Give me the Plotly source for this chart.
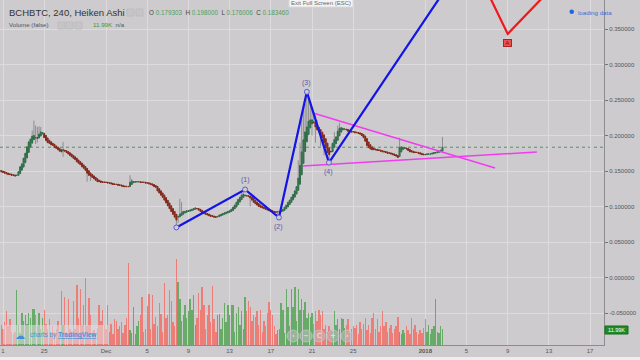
import plotly.graph_objects as go
import pandas as pd

# ---------------- data ----------------
start_time = "2017-11-20 16:00"   # first 4h Heiken Ashi candle
first_open = 0.151

closes = [
    0.150, 0.149,                                   # Nov 20
    0.148, 0.147, 0.146, 0.145, 0.145, 0.144,       # Nov 21
    0.144, 0.143, 0.144, 0.149, 0.156, 0.160,       # Nov 22
    0.168, 0.175, 0.184, 0.191, 0.195, 0.199,       # Nov 23
    0.200, 0.197, 0.196, 0.202, 0.205, 0.204,       # Nov 24
    0.197, 0.193, 0.190, 0.189, 0.187, 0.186,       # Nov 25
    0.183, 0.182, 0.180, 0.178, 0.177, 0.180,       # Nov 26
    0.178, 0.176, 0.174, 0.172, 0.170, 0.168,       # Nov 27
    0.166, 0.163, 0.161, 0.159, 0.156, 0.154,       # Nov 28
    0.151, 0.147, 0.144, 0.143, 0.141, 0.139,       # Nov 29
    0.137, 0.135, 0.135, 0.134, 0.134, 0.134,       # Nov 30
    0.134, 0.133, 0.133, 0.132, 0.131, 0.131,       # Dec 1
    0.131, 0.130, 0.130, 0.129, 0.128, 0.128,       # Dec 2
    0.128, 0.128, 0.134, 0.136, 0.135, 0.135,       # Dec 3
    0.135, 0.135, 0.134, 0.134, 0.134, 0.133,       # Dec 4
    0.133, 0.132, 0.131, 0.130, 0.128, 0.127,       # Dec 5
    0.122, 0.119, 0.116, 0.113, 0.109, 0.105,       # Dec 6
    0.101, 0.097, 0.093, 0.089, 0.085, 0.081,       # Dec 7
    0.086, 0.089, 0.091, 0.093, 0.093, 0.094,       # Dec 8
    0.094, 0.095, 0.096, 0.097, 0.098, 0.097,       # Dec 9
    0.095, 0.093, 0.091, 0.090, 0.089, 0.088,       # Dec 10
    0.087, 0.086, 0.086, 0.085, 0.085, 0.086,       # Dec 11
    0.088, 0.089, 0.090, 0.091, 0.092, 0.093,       # Dec 12
    0.094, 0.096, 0.099, 0.102, 0.106, 0.110,       # Dec 13
    0.113, 0.116, 0.117, 0.116, 0.115, 0.114,       # Dec 14
    0.112, 0.109, 0.106, 0.104, 0.102, 0.100,       # Dec 15
    0.099, 0.098, 0.097, 0.096, 0.095, 0.094,       # Dec 16
    0.093, 0.092, 0.092, 0.092, 0.093, 0.093,       # Dec 17
    0.094, 0.096, 0.099, 0.102, 0.106, 0.109,       # Dec 18
    0.113, 0.117, 0.122, 0.128, 0.140, 0.158,       # Dec 19
    0.177, 0.194, 0.205, 0.212, 0.220, 0.222,       # Dec 20
    0.222, 0.218, 0.212, 0.208, 0.205, 0.201,       # Dec 21
    0.197, 0.190, 0.183, 0.176, 0.173, 0.177,       # Dec 22
    0.189, 0.194, 0.198, 0.206, 0.210, 0.211,       # Dec 23
    0.210, 0.209, 0.208, 0.206, 0.205, 0.205,       # Dec 24
    0.205, 0.204, 0.204, 0.203, 0.202, 0.200,       # Dec 25
    0.197, 0.192, 0.186, 0.183, 0.181, 0.180,       # Dec 26
    0.180, 0.180, 0.179, 0.179, 0.178, 0.177,       # Dec 27
    0.177, 0.176, 0.175, 0.175, 0.174, 0.173,       # Dec 28
    0.172, 0.171, 0.169, 0.183, 0.184, 0.183,       # Dec 29
    0.183, 0.181, 0.179, 0.177, 0.177, 0.176,       # Dec 30
    0.176, 0.176, 0.175, 0.174, 0.173, 0.173,       # Dec 31
    0.173, 0.174, 0.174, 0.174, 0.175, 0.176,       # Jan 1
    0.176, 0.177, 0.178, 0.1794, 0.18346,           # Jan 2
]

volumes_k = [
    22, 15,
    12, 17, 25, 14, 19, 10,
    8, 10, 41, 15, 9, 24,
    18, 22, 16, 24, 20, 27,
    27, 22, 14, 24, 12, 20,
    26, 16, 12, 19, 8, 14,
    10, 12, 18, 9, 40, 15,
    36, 10, 34, 12, 8, 33,
    12, 45, 20, 42, 15, 30,
    50, 14, 35, 22, 10, 11,
    9, 13, 30, 18, 26, 15,
    12, 30, 10, 16, 8, 19,
    18, 12, 14, 17, 9, 15,
    20, 61, 11, 9, 28, 8,
    14, 18, 22, 36, 10, 12,
    29, 38, 12, 37, 16, 21,
    14, 31, 23, 10, 46, 20,
    22, 41, 33, 17, 14, 64,
    47, 34, 18, 22, 30, 20,
    25, 34, 26, 37, 15, 20,
    39, 26, 43, 30, 12, 22,
    30, 17, 44, 19, 10, 22,
    23, 12, 20, 31, 17, 30,
    22, 30, 30, 10, 24, 28,
    15, 25, 12, 36, 25, 33,
    28, 18, 22, 21, 25, 15,
    26, 10, 18, 14, 24, 32,
    26, 22, 14, 8, 11, 12,
    31, 26, 9, 42, 28, 14,
    42, 28, 43, 18, 42, 26,
    34, 26, 32, 20, 24, 21,
    24, 16, 25, 18, 26, 22,
    25, 12, 15, 10, 14, 11,
    10, 25, 15, 19, 12, 20,
    19, 13, 15, 19, 9, 12,
    14, 13, 15, 8, 17, 12,
    16, 20, 11, 15, 9, 20,
    24, 12, 19, 10, 14, 25,
    14, 17, 10, 13, 15, 9,
    12, 14, 21, 10, 8, 11,
    9, 14, 11, 8, 20, 12,
    15, 10, 8, 11, 9, 13,
    19, 10, 15, 8, 12, 14,
    34, 10, 9, 14, 11.99,
]

wick_high_times = ["2017-11-23 20:00", "2017-11-24 00:00", "2017-11-24 04:00", "2017-11-24 08:00",
                   "2017-11-24 12:00", "2017-11-24 16:00", "2017-11-26 20:00", "2017-12-03 08:00",
                   "2017-12-03 12:00", "2017-12-08 04:00", "2017-12-08 08:00", "2017-12-14 04:00",
                   "2017-12-14 08:00", "2017-12-19 16:00", "2017-12-19 20:00", "2017-12-20 00:00",
                   "2017-12-20 04:00", "2017-12-20 08:00", "2017-12-20 12:00", "2017-12-20 16:00",
                   "2017-12-20 20:00", "2017-12-21 00:00", "2017-12-21 04:00", "2017-12-21 08:00",
                   "2017-12-21 12:00", "2017-12-23 04:00", "2017-12-23 12:00", "2017-12-23 16:00",
                   "2017-12-29 12:00", "2018-01-02 16:00"]
wick_high_vals = [0.207, 0.221, 0.214, 0.212, 0.213, 0.212, 0.191, 0.144,
                  0.139, 0.111, 0.106, 0.120, 0.124, 0.165, 0.190, 0.225,
                  0.240, 0.245, 0.2615, 0.252, 0.245, 0.240, 0.232, 0.228,
                  0.222, 0.205, 0.214, 0.218, 0.197, 0.198]
wick_low_times = ["2017-11-24 04:00", "2017-11-24 08:00", "2017-11-26 20:00", "2017-11-29 04:00",
                  "2017-11-29 12:00", "2017-12-07 20:00", "2017-12-08 00:00", "2017-12-15 00:00",
                  "2017-12-17 16:00", "2017-12-17 20:00", "2017-12-19 20:00", "2017-12-20 00:00",
                  "2017-12-20 16:00", "2017-12-21 00:00", "2017-12-21 08:00", "2017-12-21 20:00",
                  "2017-12-22 04:00", "2017-12-22 16:00", "2018-01-02 16:00"]
wick_low_vals = [0.188, 0.190, 0.170, 0.135, 0.136, 0.072, 0.077, 0.100,
                 0.088, 0.0845, 0.140, 0.160, 0.200, 0.200, 0.190, 0.185,
                 0.172, 0.162, 0.176006]

# Elliott wave (blue) and correction (red) drawing
wave_times = ["2017-12-07 20:00", "2017-12-14 12:00", "2017-12-17 19:00", "2017-12-20 12:00",
              "2017-12-22 15:30", "2018-01-05 06:00"]
wave_prices = [0.0705, 0.124, 0.0845, 0.2615, 0.1618, 0.4556]
wave_labels = ["", "(1)", "(2)", "(3)", "(4)"]
wave_label_side = [0, 1, -1, 1, -1]
corr_times = ["2018-01-05 06:00", "2018-01-09 00:00", "2018-01-14 02:00"]
corr_prices = [0.4556, 0.343, 0.4199]
# triangle trend lines (magenta)
upper_times = ["2017-12-21 02:30", "2018-01-07 18:30"]
upper_prices = [0.2317, 0.1542]
lower_times = ["2017-12-20 03:00", "2018-01-11 20:00"]
lower_prices = [0.1570, 0.1768]

last_price = 0.18346
ohlc_text = ["0.179303", "0.198000", "0.176006", "0.183460"]
last_volume_text = "11.99K"

price_ticks = [0.35, 0.30, 0.25, 0.20, 0.15, 0.10, 0.05, 0.0, -0.05]
date_ticks = ["2017-11-21", "2017-11-25", "2017-12-01", "2017-12-05", "2017-12-09", "2017-12-13",
              "2017-12-17", "2017-12-21", "2017-12-25", "2018-01-01", "2018-01-05", "2018-01-09",
              "2018-01-13", "2018-01-17"]
date_tick_labels = ["1", "25", "Dec", "5", "9", "13", "17", "21", "25", "<b>2018</b>",
                    "5", "9", "13", "17"]

# ---------------- build ----------------
times = pd.date_range(start_time, periods=len(closes), freq="4h")
opens = []
for i, c in enumerate(closes):
    if i == 0:
        opens.append(first_open)
    else:
        opens.append((opens[-1] + closes[i - 1]) / 2)
highs = [max(o, c) for o, c in zip(opens, closes)]
lows = [min(o, c) for o, c in zip(opens, closes)]
for t, v in zip(wick_high_times, wick_high_vals):
    k = times.get_loc(pd.Timestamp(t))
    highs[k] = max(highs[k], v)
for t, v in zip(wick_low_times, wick_low_vals):
    k = times.get_loc(pd.Timestamp(t))
    lows[k] = min(lows[k], v)
body_hi = [max(o, c) for o, c in zip(opens, closes)]
body_lo = [min(o, c) for o, c in zip(opens, closes)]
up = [c >= o for o, c in zip(opens, closes)]

BG = "#cdcbce"
GRID = "#dddbde"
FONT = "Liberation Sans, Arial, sans-serif"

W, H = 640, 360
ML, MR, MT, MB = 0, 36, 0, 15
PW, PH = W - ML - MR, H - MT - MB


def fx(px):
    return (px - ML) / PW


def fy(py):
    return (H - MB - py) / PH


fig = go.Figure()

# volume (primary hidden y axis, underneath)
fig.add_trace(go.Bar(
    x=times, y=volumes_k, yaxis="y",
    marker=dict(color=["rgba(96,168,96,0.92)" if u else "rgba(240,118,112,0.92)" for u in up],
                line=dict(width=0)),
    width=4 * 3600 * 1000 * 0.8, showlegend=False, hoverinfo="skip"))

# wicks (gray)
fig.add_trace(go.Candlestick(
    x=times, open=opens, high=highs, low=lows, close=closes, yaxis="y2",
    increasing=dict(line=dict(color="#8e8d90", width=1), fillcolor="#8e8d90"),
    decreasing=dict(line=dict(color="#8e8d90", width=1), fillcolor="#8e8d90"),
    whiskerwidth=0, showlegend=False, hoverinfo="skip"))
# bodies
fig.add_trace(go.Candlestick(
    x=times, open=opens, high=body_hi, low=body_lo, close=closes, yaxis="y2",
    increasing=dict(line=dict(color="#2f6e48", width=1), fillcolor="#4a8f63"),
    decreasing=dict(line=dict(color="#86281a", width=1), fillcolor="#b4402f"),
    whiskerwidth=0, showlegend=False, hoverinfo="skip"))

# magenta triangle
for tt, pp in ((upper_times, upper_prices), (lower_times, lower_prices)):
    fig.add_trace(go.Scatter(x=tt, y=pp, yaxis="y2", mode="lines",
                             line=dict(color="#f23cf0", width=1.5),
                             showlegend=False, hoverinfo="skip"))
# blue impulse wave
fig.add_trace(go.Scatter(x=wave_times, y=wave_prices, yaxis="y2", mode="lines",
                         line=dict(color="#1414e6", width=2.2),
                         showlegend=False, hoverinfo="skip"))
fig.add_trace(go.Scatter(x=wave_times[:5], y=wave_prices[:5], yaxis="y2", mode="markers",
                         marker=dict(symbol="circle", size=5, color=BG,
                                     line=dict(color="#5b5bd6", width=1)),
                         showlegend=False, hoverinfo="skip"))
# red correction
fig.add_trace(go.Scatter(x=corr_times, y=corr_prices, yaxis="y2", mode="lines",
                         line=dict(color="#f01818", width=2.2),
                         showlegend=False, hoverinfo="skip"))

annotations = []
for t, p, lab, s in zip(wave_times, wave_prices, wave_labels, wave_label_side):
    if lab:
        annotations.append(dict(x=t, y=p, xref="x", yref="y2", text=lab, showarrow=False,
                                yshift=9 * s, font=dict(family=FONT, size=7, color="#5a5aa8")))
annotations.append(dict(x=corr_times[1], y=corr_prices[1], xref="x", yref="y2", text=" A ",
                        showarrow=False, yshift=-9, bgcolor="#ee5050", bordercolor="#b02020",
                        borderwidth=1, borderpad=0,
                        font=dict(family=FONT, size=6, color="#701010")))

shapes = []
# last price dotted line
shapes.append(dict(type="line", xref="paper", x0=0, x1=1, yref="y2", y0=last_price, y1=last_price,
                   line=dict(color="#4e9a62", width=1, dash="dot"), layer="below"))

# header texts
annotations.append(dict(x=fx(7), y=fy(12), xref="paper", yref="paper", xanchor="left",
                        yanchor="middle", showarrow=False, text="BCHBTC, 240, Heiken Ashi",
                        font=dict(family=FONT, size=9.5, color="#333333")))
ohlc_html = "  ".join(
    f"<span style='color:#444'>{k}</span> <span style='color:#4f9e62'>{v}</span>"
    for k, v in zip(["O", "H", "L", "C"], ohlc_text))
annotations.append(dict(x=fx(147), y=fy(12), xref="paper", yref="paper", xanchor="left",
                        yanchor="middle", showarrow=False, text=ohlc_html,
                        font=dict(family=FONT, size=6.3, color="#444")))
annotations.append(dict(x=fx(7), y=fy(25), xref="paper", yref="paper", xanchor="left",
                        yanchor="middle", showarrow=False, text="Volume (false)",
                        font=dict(family=FONT, size=6.2, color="#555555")))
annotations.append(dict(x=fx(91), y=fy(25), xref="paper", yref="paper", xanchor="left",
                        yanchor="middle", showarrow=False,
                        text=f"<span style='color:#3a9a3a'>{last_volume_text}</span>  n/a",
                        font=dict(family=FONT, size=6.2, color="#555555")))
for x0 in (127, 136):
    shapes.append(dict(type="rect", xref="paper", yref="paper", x0=fx(x0), x1=fx(x0 + 7),
                       y0=fy(16), y1=fy(9), line=dict(color="#bdbcbf", width=1),
                       fillcolor="#c6c4c7"))
for x0 in (58, 66, 75):
    shapes.append(dict(type="rect", xref="paper", yref="paper", x0=fx(x0), x1=fx(x0 + 7),
                       y0=fy(29), y1=fy(22), line=dict(color="#bdbcbf", width=1),
                       fillcolor="#c6c4c7"))

# exit full screen tooltip
shapes.append(dict(type="rect", xref="paper", yref="paper", x0=fx(289), x1=fx(353),
                   y0=fy(7), y1=fy(-2), line=dict(color="#d8d8d8", width=1), fillcolor="#f4f4f4"))
annotations.append(dict(x=fx(321), y=fy(3), xref="paper", yref="paper", showarrow=False,
                        text="Exit Full Screen (ESC)", xanchor="center", yanchor="middle",
                        font=dict(family=FONT, size=6, color="#666666")))
# loading data
shapes.append(dict(type="circle", xref="paper", yref="paper", x0=fx(569.5), x1=fx(574),
                   y0=fy(14), y1=fy(9.5), line=dict(width=0), fillcolor="#2166dd"))
annotations.append(dict(x=fx(576), y=fy(12), xref="paper", yref="paper", showarrow=False,
                        text="loading data", xanchor="left", yanchor="middle",
                        font=dict(family=FONT, size=6.2, color="#3b6fd6")))

# volume value on axis
shapes.append(dict(type="rect", xref="paper", yref="paper", x0=fx(605), x1=fx(628),
                   y0=fy(334), y1=fy(326), line=dict(color="#0f6e1c", width=1),
                   fillcolor="#1e8c2a"))
annotations.append(dict(x=fx(616.5), y=fy(330), xref="paper", yref="paper", showarrow=False,
                        text=last_volume_text, xanchor="center", yanchor="middle",
                        font=dict(family=FONT, size=5.5, color="#ffffff")))

# TradingView badge
shapes.append(dict(type="rect", xref="paper", yref="paper", x0=fx(3), x1=fx(108),
                   y0=fy(344), y1=fy(325), line=dict(width=0),
                   fillcolor="rgba(225,223,228,0.55)"))
annotations.append(dict(x=fx(13), y=fy(335), xref="paper", yref="paper", showarrow=False,
                        text="☁", xanchor="left", yanchor="middle",
                        font=dict(family="DejaVu Sans", size=10, color="#3f8fd8")))
annotations.append(dict(x=fx(28), y=fy(335), xref="paper", yref="paper", showarrow=False,
                        text="charts by <b><u>TradingView</u></b>", xanchor="left",
                        yanchor="middle",
                        font=dict(family=FONT, size=6.5, color="#3f93dc")))

# navigation buttons
for cx, sym in zip((293, 306, 319, 333, 347), ("‹", "−", "C", "+", "›")):
    shapes.append(dict(type="circle", xref="paper", yref="paper", x0=fx(cx - 6), x1=fx(cx + 6),
                       y0=fy(342), y1=fy(330), line=dict(color="rgba(200,200,200,0.7)", width=1),
                       fillcolor="rgba(190,190,192,0.55)"))
    annotations.append(dict(x=fx(cx), y=fy(336), xref="paper", yref="paper", showarrow=False,
                            text=sym, xanchor="center", yanchor="middle",
                            font=dict(family="DejaVu Sans", size=7, color="#eeeeee")))

# bottom light strip
shapes.append(dict(type="rect", xref="paper", yref="paper", x0=0, x1=W / PW, y0=fy(361),
                   y1=fy(357), line=dict(width=0), fillcolor="#eeeeef"))

x_left = pd.Timestamp("2017-12-01") - pd.Timedelta(days=106 / 10.3)
x_right = pd.Timestamp("2017-12-01") + pd.Timedelta(days=(PW - 106) / 10.3)
p_per_px = 0.40 / 284
y_top = 0.35 + 29 * p_per_px
y_bot = -0.05 - (PH - 313) * p_per_px

fig.update_layout(
    width=W, height=H, autosize=False,
    margin=dict(l=ML, r=MR, t=MT, b=MB),
    paper_bgcolor=BG, plot_bgcolor=BG,
    showlegend=False, hovermode=False, bargap=0,
    font=dict(family=FONT, size=6, color="#555555"),
    xaxis=dict(type="date", range=[x_left, x_right], rangeslider=dict(visible=False),
               tickvals=date_ticks, ticktext=date_tick_labels, ticks="", showgrid=True,
               gridcolor=GRID, gridwidth=1, showline=True, linecolor="#8c8b8e", linewidth=1,
               tickfont=dict(family=FONT, size=6, color="#555555"), zeroline=False),
    yaxis=dict(range=[0, PH * 64 / 86], visible=False, showgrid=False, fixedrange=True),
    yaxis2=dict(overlaying="y", side="right", range=[y_bot, y_top],
                tickvals=price_ticks, ticktext=[f"{v:.6f}" for v in price_ticks],
                ticks="outside", ticklen=3, tickcolor="#777777", showgrid=True,
                gridcolor=GRID, gridwidth=1, showline=True, linecolor="#8c8b8e", linewidth=1,
                zeroline=False, tickfont=dict(family=FONT, size=6, color="#555555")),
    shapes=shapes, annotations=annotations,
)

fig.write_html("out.html", config={"displayModeBar": False},
               post_script="document.body.style.margin='0';document.body.style.background='%s';" % BG)
